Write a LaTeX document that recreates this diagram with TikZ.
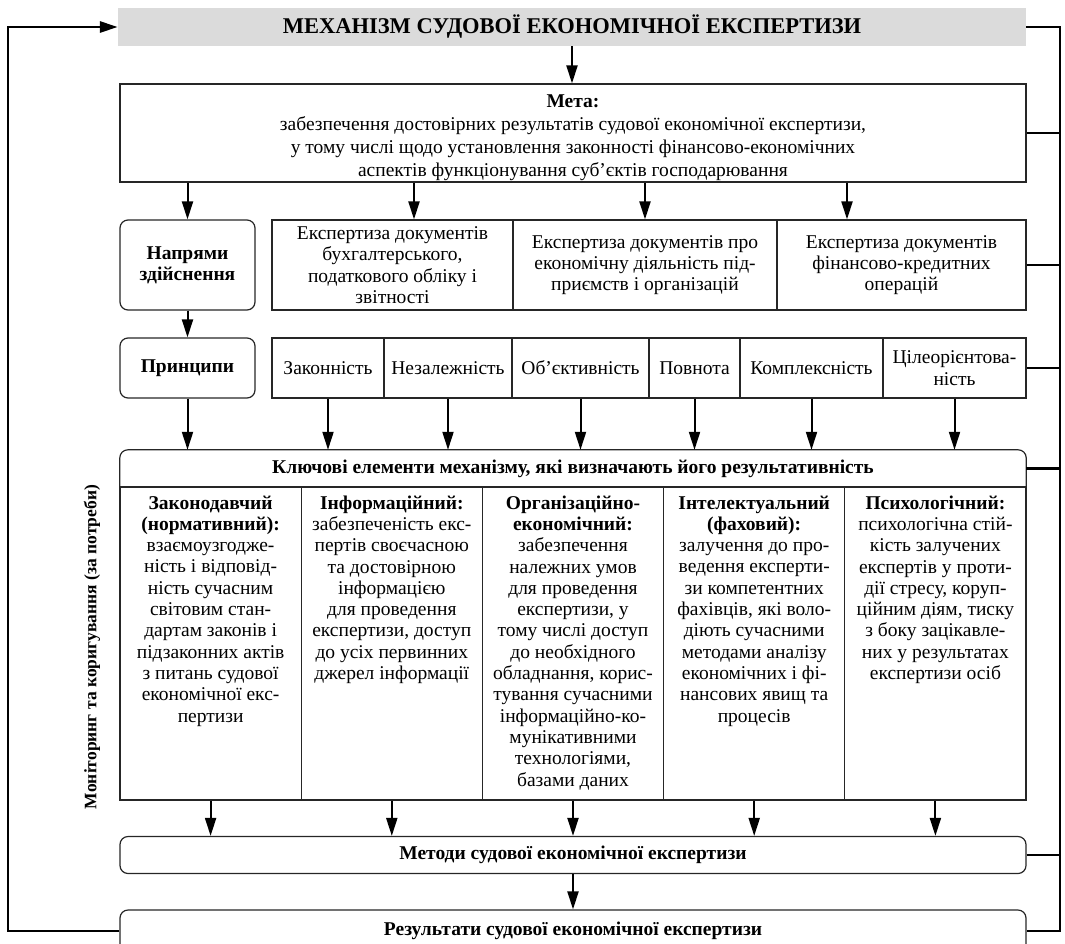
\documentclass[tikz,border=0pt]{standalone}
\usepackage{fontspec}
\setmainfont{Liberation Serif}
\usetikzlibrary{arrows.meta}
\newcommand{\txtsize}{\fontsize{19.5}{21.3}\selectfont}

\begin{document}
\begin{tikzpicture}[x=1pt, y=-1pt,
  box/.style={draw=black!85, line width=1.2pt, inner sep=0pt, align=center, font=\txtsize},
  rbox/.style={box, rounded corners=8pt},
  coltext/.style={align=center, font=\txtsize, inner xsep=0pt, inner ysep=9pt},
  arr/.style={line width=2pt, -{Triangle[length=18pt,width=11pt]}},
  fb/.style={line width=2.8pt}]
  \clip (0,0) rectangle (1065,943);
  % title and goal
  \node[fill=black!14, minimum width=908pt, minimum height=38pt, inner sep=0pt,
        font=\fontsize{22.5}{25}\selectfont\bfseries] (title) at (572,27) {МЕХАНІЗМ СУДОВОЇ ЕКОНОМІЧНОЇ ЕКСПЕРТИЗИ};
  \node[box, minimum width=906pt, minimum height=98pt, font=\fontsize{19.5}{23}\selectfont] (meta) at (573,133)
    {\rule{0pt}{22pt}\textbf{Мета:}\\забезпечення достовірних результатів судової економічної експертизи,\\у тому числі щодо установлення законності фінансово-економічних\\аспектів функціонування суб’єктів господарювання};
  % directions
  \node[rbox, minimum width=135pt, minimum height=90pt, font=\txtsize\bfseries] (dirs) at (187.5,265) {Напрями\\здійснення};
  \node[box, minimum width=241pt, minimum height=90pt] (ex1) at (392.5,265) {Експертиза документів\\бухгалтерського,\\податкового обліку і\\звітності};
  \node[box, minimum width=264pt, minimum height=90pt] (ex2) at (645,265) {Експертиза документів про\\економічну діяльність під-\\приємств і організацій};
  \node[box, minimum width=249pt, minimum height=90pt] (ex3) at (901.5,265) {Експертиза документів\\фінансово-кредитних\\операцій};
  % principles
  \node[rbox, minimum width=135pt, minimum height=60pt, font=\txtsize\bfseries] (princ) at (187.5,368) {Принципи};
  \node[box, minimum width=112pt, minimum height=60pt] (p1) at (328,368) {Законність};
  \node[box, minimum width=128pt, minimum height=60pt] (p2) at (448,368) {Незалежність};
  \node[box, minimum width=137pt, minimum height=60pt] (p3) at (580.5,368) {Об’єктивність};
  \node[box, minimum width=91pt, minimum height=60pt] (p4) at (694.5,368) {Повнота};
  \node[box, minimum width=143pt, minimum height=60pt] (p5) at (811.5,368) {Комплексність};
  \node[box, minimum width=143pt, minimum height=60pt] (p6) at (954.5,368) {Цілеорієнтова-\\ність};
  % key elements
  \node[minimum width=906pt, minimum height=37pt, inner sep=0pt, font=\txtsize\bfseries] (key) at (573,468.5)
    {Ключові елементи механізму, які визначають його результативність};
  \draw[draw=black!85, line width=1.2pt, rounded corners=8pt] (key.south west) -- (key.north west) -- (key.north east) -- (key.south east);
  \foreach \i/\cx in {1/210.6, 2/391.8, 3/573, 4/754.2, 5/935.4}
    \node[box, minimum width=181.2pt, minimum height=313pt] (c\i) at (\cx,643.5) {};
  \node[coltext, anchor=north] (t1) at (c1.north) {\textbf{Законодавчий}\\\textbf{(нормативний):}\\взаємоузгодже-\\ність і відповід-\\ність сучасним\\світовим стан-\\дартам законів і\\підзаконних актів\\з питань судової\\економічної екс-\\пертизи};
  \node[coltext, anchor=north] (t2) at (c2.north) {\textbf{Інформаційний:}\\забезпеченість екс-\\пертів своєчасною\\та достовірною\\інформацією\\для проведення\\експертизи, доступ\\до усіх первинних\\джерел інформації};
  \node[coltext, anchor=north] (t3) at (c3.north) {\textbf{Організаційно-}\\\textbf{економічний:}\\забезпечення\\належних умов\\для проведення\\експертизи, у\\тому числі доступ\\до необхідного\\обладнання, корис-\\тування сучасними\\інформаційно-ко-\\мунікативними\\технологіями,\\базами даних};
  \node[coltext, anchor=north] (t4) at (c4.north) {\textbf{Інтелектуальний}\\\textbf{(фаховий):}\\залучення до про-\\ведення експерти-\\зи компетентних\\фахівців, які воло-\\діють сучасними\\методами аналізу\\економічних і фі-\\нансових явищ та\\процесів};
  \node[coltext, anchor=north] (t5) at (c5.north) {\textbf{Психологічний:}\\психологічна стій-\\кість залучених\\експертів у проти-\\дії стресу, коруп-\\ційним діям, тиску\\з боку зацікавле-\\них у результатах\\експертизи осіб};
  % methods and results
  \node[rbox, minimum width=906pt, minimum height=37pt, font=\txtsize\bfseries] (meth) at (573,855) {Методи судової економічної експертизи};
  \node[rbox, minimum width=906pt, minimum height=42pt, font=\txtsize\bfseries] (res) at (573,931) {Результати судової економічної експертизи};
  \node[rotate=90, font=\fontsize{17.5}{20}\selectfont\bfseries] (mon) at (92,647) {Моніторинг та коригування (за потреби)};
  % arrows
  \coordinate (m1) at (414,0);
  \coordinate (m3) at (847,0);
  \draw[arr] (title.south) -- (title.south |- meta.north);
  \draw[arr] (meta.south -| dirs) -- (dirs.north);
  \draw[arr] (meta.south -| m1) -- (ex1.north -| m1);
  \draw[arr] (meta.south -| ex2) -- (ex2.north);
  \draw[arr] (meta.south -| m3) -- (ex3.north -| m3);
  \draw[arr] (dirs.south) -- (princ.north);
  \draw[arr] (princ.south) -- (princ.south |- key.north);
  \foreach \i in {1,...,6}
    \draw[arr] (p\i.south) -- (p\i.south |- key.north);
  \foreach \i in {1,...,5}
    \draw[arr] (c\i.south) -- (c\i.south |- meth.north);
  \draw[arr] (meth.south) -- (res.north);
  % feedback loop
  \coordinate (lc) at (8,0);
  \coordinate (rc) at (1060,0);
  \draw[fb, -{Triangle[length=18pt,width=11pt]}] (res.west) -- (res.west -| lc) -- (title.west -| lc) -- (title.west);
  \draw[fb] (title.east) -- (title.east -| rc) -- (res.east -| rc) -- (res.east);
  \foreach \n in {meta, ex3, p6, key, meth}
    \draw[fb] (\n.east) -- (\n.east -| rc);
\end{tikzpicture}
\end{document}
